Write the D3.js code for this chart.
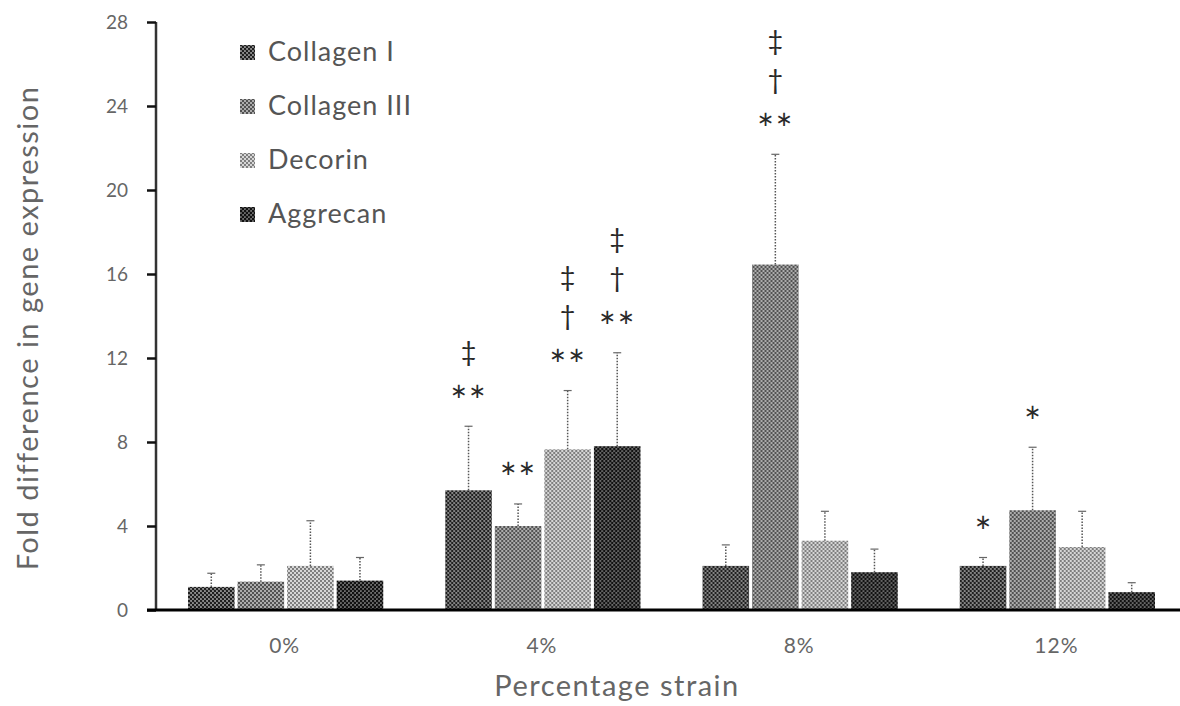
<!DOCTYPE html>
<html>
  <head>
    <meta charset="utf-8" />
    <title>Fold difference in gene expression vs strain</title>
    <script src="https://d3js.org/d3.v7.min.js"></script>
    <style>
      body {
        margin: 0;
        background: #fff;
        font-family: Lato, "Open Sans", sans-serif;
      }
      svg {
        display: block;
      }
    </style>
  </head>
  <body>
    <svg width="1180" height="706"></svg>

    <script>
      // data
      const strains = ["0%", "4%", "8%", "12%"];
      const genes = ["Collagen I", "Collagen III", "Decorin", "Aggrecan"];

      const collagen1 = [1.1, 5.7, 2.1, 2.1];
      const collagen3 = [1.35, 4.0, 16.45, 4.75];
      const decorin = [2.1, 7.65, 3.3, 3.0];
      const aggrecan = [1.4, 7.8, 1.8, 0.85];

      // upper end of the error bars
      const collagen1Err = [1.75, 8.75, 3.1, 2.5];
      const collagen3Err = [2.15, 5.05, 21.7, 7.75];
      const decorinErr = [4.25, 10.45, 4.7, 4.7];
      const aggrecanErr = [2.5, 12.25, 2.9, 1.3];

      // significance marks, bottom to top
      const collagen1Sig = [[], ["∗∗", "‡"], [], ["∗"]];
      const collagen3Sig = [[], ["∗∗"], ["∗∗", "†", "‡"], ["∗"]];
      const decorinSig = [[], ["∗∗", "†", "‡"], [], []];
      const aggrecanSig = [[], ["∗∗", "†", "‡"], [], []];

      const yTicks = [0, 4, 8, 12, 16, 20, 24, 28];

      const series = [
        { name: genes[0], values: collagen1, err: collagen1Err, sig: collagen1Sig },
        { name: genes[1], values: collagen3, err: collagen3Err, sig: collagen3Sig },
        { name: genes[2], values: decorin, err: decorinErr, sig: decorinSig },
        { name: genes[3], values: aggrecan, err: aggrecanErr, sig: aggrecanSig }
      ];

      const svg = d3.select("svg");
      const margin = { top: 22, right: 0, bottom: 96, left: 156 };
      const plotRight = 1185;
      const innerHeight = 706 - margin.top - margin.bottom;

      // halftone-like fills
      const fills = [
        { id: "p0", bg: "#8c8c8c", dot: "#1c1c1c", r: 1.25 },
        { id: "p1", bg: "#acacac", dot: "#333", r: 1.0 },
        { id: "p2", bg: "#d6d6d6", dot: "#555", r: 0.9 },
        { id: "p3", bg: "#6e6e6e", dot: "#111", r: 1.35 }
      ];
      const defs = svg.append("defs");
      fills.forEach(f => {
        const p = defs.append("pattern")
          .attr("id", f.id)
          .attr("width", 4).attr("height", 4)
          .attr("patternUnits", "userSpaceOnUse");
        p.append("rect").attr("width", 4).attr("height", 4).attr("fill", f.bg);
        p.append("circle").attr("cx", 1).attr("cy", 1).attr("r", f.r).attr("fill", f.dot);
        p.append("circle").attr("cx", 3).attr("cy", 3).attr("r", f.r).attr("fill", f.dot);
      });
      const color = d3.scaleOrdinal().domain(genes).range(fills.map(f => `url(#${f.id})`));

      const x0 = d3.scaleBand().domain(strains).range([margin.left, plotRight]);
      const x1 = d3.scaleBand().domain(genes)
        .range([32, x0.bandwidth() - 30])
        .paddingInner(0.06);
      const y = d3.scaleLinear().domain([0, 28]).range([margin.top + innerHeight, margin.top]);

      // y axis
      const yAxis = svg.append("g")
        .attr("transform", `translate(${margin.left},0)`)
        .call(d3.axisLeft(y).tickValues(yTicks).tickSize(9).tickPadding(19).tickFormat(d3.format("d")));
      yAxis.select(".domain").attr("stroke", "#333").attr("stroke-width", 2.5).attr("d", `M0,${y(28)}V${y(0)}`);
      yAxis.selectAll(".tick line").attr("stroke", "#111").attr("stroke-width", 2.5);
      yAxis.selectAll(".tick text")
        .attr("fill", "#666")
        .style("font-size", "19px")
        .style("font-family", "Lato, sans-serif");

      // bars
      const groups = svg.append("g").selectAll("g")
        .data(strains)
        .join("g")
        .attr("transform", d => `translate(${x0(d)},0)`);

      series.forEach(s => {
        groups.append("rect")
          .attr("x", x1(s.name))
          .attr("width", x1.bandwidth())
          .attr("y", (d, i) => y(s.values[i]))
          .attr("height", (d, i) => y(0) - y(s.values[i]))
          .attr("fill", color(s.name));

        // error bars (upper half only, dotted)
        const cx = x1(s.name) + x1.bandwidth() / 2;
        groups.append("line")
          .attr("x1", cx).attr("x2", cx)
          .attr("y1", (d, i) => y(s.values[i]))
          .attr("y2", (d, i) => y(s.err[i]))
          .attr("stroke", "#555")
          .attr("stroke-width", 1.5)
          .attr("stroke-dasharray", "1.5,1.5");
        groups.append("line")
          .attr("x1", cx - 4).attr("x2", cx + 4)
          .attr("y1", (d, i) => y(s.err[i]))
          .attr("y2", (d, i) => y(s.err[i]))
          .attr("stroke", "#666")
          .attr("stroke-width", 1.2);

        // significance marks
        groups.each(function (d, i) {
          d3.select(this).selectAll(null)
            .data(s.sig[i])
            .join("text")
            .attr("x", cx)
            .attr("y", (m, k) => y(s.err[i]) - 36 - k * 39)
            .attr("dy", "0.35em")
            .attr("text-anchor", "middle")
            .attr("fill", "#2a2a2a")
            .style("font-family", m => (m.startsWith("∗") ? "'DejaVu Sans', sans-serif" : "Lato, sans-serif"))
            .style("font-size", m => (m.startsWith("∗") ? "21px" : "27px"))
            .style("letter-spacing", m => (m.length > 1 ? "1px" : "0px"))
            .text(m => m);
        });
      });

      // x axis
      const xAxis = svg.append("g")
        .attr("transform", `translate(0,${y(0)})`)
        .call(d3.axisBottom(x0).tickSize(0).tickPadding(28));
      xAxis.select(".domain").attr("stroke", "#000").attr("stroke-width", 3).attr("d", `M147,0H1180`);
      xAxis.selectAll(".tick text")
        .attr("fill", "#666")
        .style("font-size", "21px")
        .style("letter-spacing", "1px")
        .style("font-family", "Lato, sans-serif");

      // axis titles
      svg.append("text")
        .attr("x", 617)
        .attr("y", 686)
        .attr("dy", "0.35em")
        .attr("text-anchor", "middle")
        .attr("fill", "#666")
        .style("font-size", "29px")
        .style("letter-spacing", "1.5px")
        .text("Percentage strain");

      svg.append("text")
        .attr("transform", `translate(28,${328}) rotate(-90)`)
        .attr("dy", "0.35em")
        .attr("text-anchor", "middle")
        .attr("fill", "#666")
        .style("font-size", "29px")
        .style("letter-spacing", "1.5px")
        .text("Fold difference in gene expression");

      // legend
      const legend = svg.append("g").selectAll("g")
        .data(genes)
        .join("g")
        .attr("transform", (d, i) => `translate(240,${52 + i * 54})`);
      legend.append("rect")
        .attr("y", -7)
        .attr("width", 15).attr("height", 15)
        .attr("fill", d => color(d));
      legend.append("text")
        .attr("x", 28)
        .attr("dy", "0.35em")
        .attr("fill", "#555")
        .style("font-size", "27px")
        .style("letter-spacing", "1px")
        .text(d => d);
    </script>
  </body>
</html>
